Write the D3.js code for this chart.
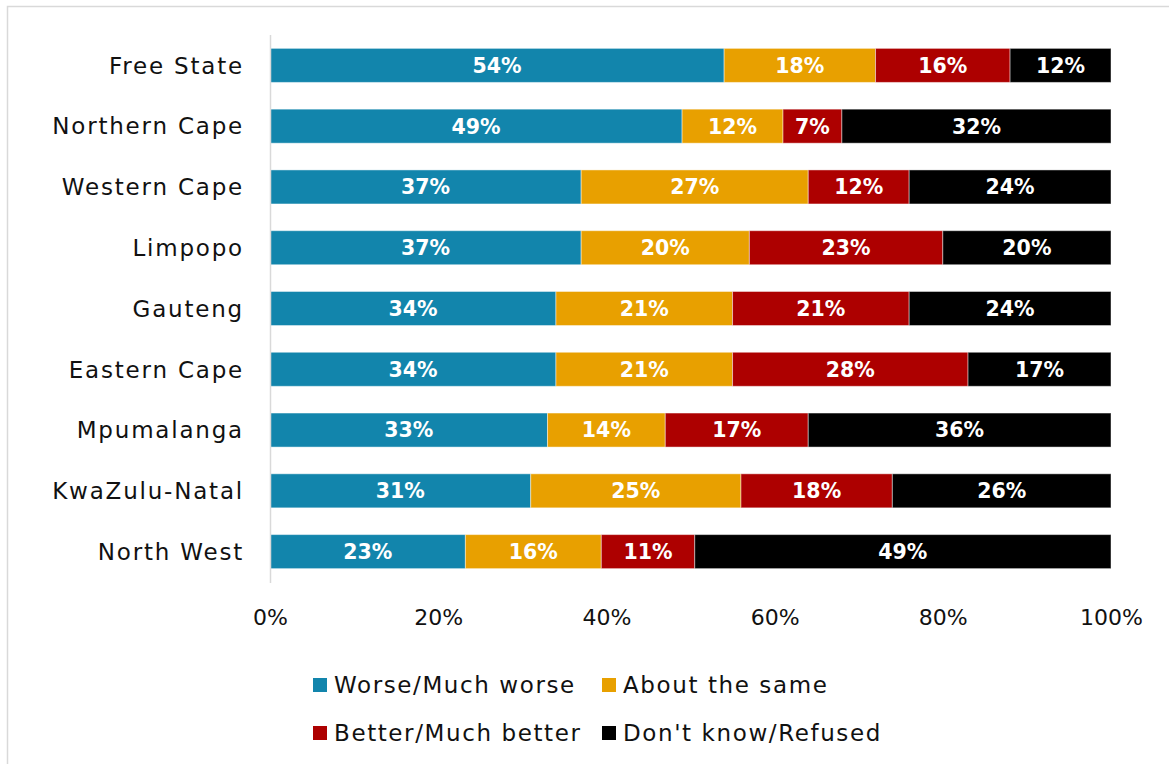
<!DOCTYPE html>
<html>
<head>
<meta charset="utf-8">
<script src="https://cdn.jsdelivr.net/npm/d3@7"></script>
<style>
  html, body { margin: 0; padding: 0; background: #fff; }
  svg { display: block; }
  text { font-family: "DejaVu Sans", "Liberation Sans", sans-serif; }
</style>
</head>
<body>
<svg id="chart" width="1169" height="764"></svg>
<script>
// Provinces, top to bottom
const provinces = ["Free State", "Northern Cape", "Western Cape", "Limpopo", "Gauteng",
  "Eastern Cape", "Mpumalanga", "KwaZulu-Natal", "North West"];

// Response shares (%) per province
const worse  = [54, 49, 37, 37, 34, 34, 33, 31, 23];
const same   = [18, 12, 27, 20, 21, 21, 14, 25, 16];
const better = [16,  7, 12, 23, 21, 28, 17, 18, 11];
const dunno  = [12, 32, 24, 20, 24, 17, 36, 26, 49];

const seriesNames = ["Worse/Much worse", "About the same", "Better/Much better", "Don't know/Refused"];
const seriesKeys = ["worse", "same", "better", "dunno"];
const seriesColors = ["#1285ac", "#e8a000", "#ad0000", "#000000"];
const tickValues = [0, 0.2, 0.4, 0.6, 0.8, 1.0];

const rows = provinces.map((p, i) => ({
  province: p, worse: worse[i], same: same[i], better: better[i], dunno: dunno[i]
}));

const svg = d3.select("#chart");

// chart frame
svg.append("rect")
  .attr("x", 7.5).attr("y", 6.5)
  .attr("width", 1200).attr("height", 800)
  .attr("fill", "none").attr("stroke", "#d9d9d9").attr("stroke-width", 1.5);

const x = d3.scaleLinear().domain([0, 1]).range([270, 1111]);
const y = d3.scaleBand().domain(provinces).range([35, 582]).paddingInner(0.44).paddingOuter(0.22);

const stack = d3.stack().keys(seriesKeys).offset(d3.stackOffsetExpand);
const layers = stack(rows);

const g = svg.append("g");
const layerG = g.selectAll("g.layer").data(layers).join("g")
  .attr("class", "layer")
  .attr("fill", (d, i) => seriesColors[i]);

layerG.selectAll("rect").data(d => d).join("rect")
  .attr("x", d => x(d[0]))
  .attr("y", d => y(d.data.province))
  .attr("width", d => x(d[1]) - x(d[0]))
  .attr("height", y.bandwidth())
  .attr("stroke", "rgba(255,255,255,0.45)")
  .attr("stroke-width", 1);

// value labels
layerG.selectAll("text").data((d) => d.map(v => ({ v, key: d.key }))).join("text")
  .attr("x", d => (x(d.v[0]) + x(d.v[1])) / 2)
  .attr("y", d => y(d.v.data.province) + y.bandwidth() / 2)
  .attr("dy", "0.36em")
  .attr("text-anchor", "middle")
  .attr("fill", "#fff")
  .attr("font-weight", "bold")
  .attr("font-size", 20.5)
  .text(d => d.v.data[d.key] + "%");

// category axis line
svg.append("line")
  .attr("x1", 270.5).attr("x2", 270.5)
  .attr("y1", 35).attr("y2", 583)
  .attr("stroke", "#d9d9d9").attr("stroke-width", 1.5);

// category labels
svg.append("g").selectAll("text").data(provinces).join("text")
  .attr("x", 244)
  .attr("y", d => y(d) + y.bandwidth() / 2)
  .attr("dy", "0.36em")
  .attr("text-anchor", "end")
  .attr("font-size", 23)
  .attr("letter-spacing", 1.8)
  .attr("fill", "#111")
  .text(d => d);

// percentage axis
const xAxis = d3.axisBottom(x).tickValues(tickValues).tickFormat(d3.format(".0%")).tickSize(0).tickPadding(0);
const ax = svg.append("g").attr("transform", "translate(0,609)").call(xAxis);
ax.select(".domain").remove();
ax.selectAll("text")
  .attr("font-size", 22)
  .attr("fill", "#111")
  .attr("font-family", "'DejaVu Sans Condensed', 'DejaVu Sans', sans-serif");

// legend
const legendPos = [[313, 685], [602, 685], [313, 733], [602, 733]];
const lg = svg.append("g").selectAll("g").data(seriesNames).join("g")
  .attr("transform", (d, i) => `translate(${legendPos[i][0]},${legendPos[i][1]})`);
lg.append("rect").attr("x", 0).attr("y", -7).attr("width", 14).attr("height", 14)
  .attr("fill", (d, i) => seriesColors[i]);
lg.append("text").attr("x", 21).attr("dy", "0.36em")
  .attr("font-size", 23).attr("letter-spacing", 1.6).attr("fill", "#111")
  .text(d => d);
</script>
</body>
</html>
